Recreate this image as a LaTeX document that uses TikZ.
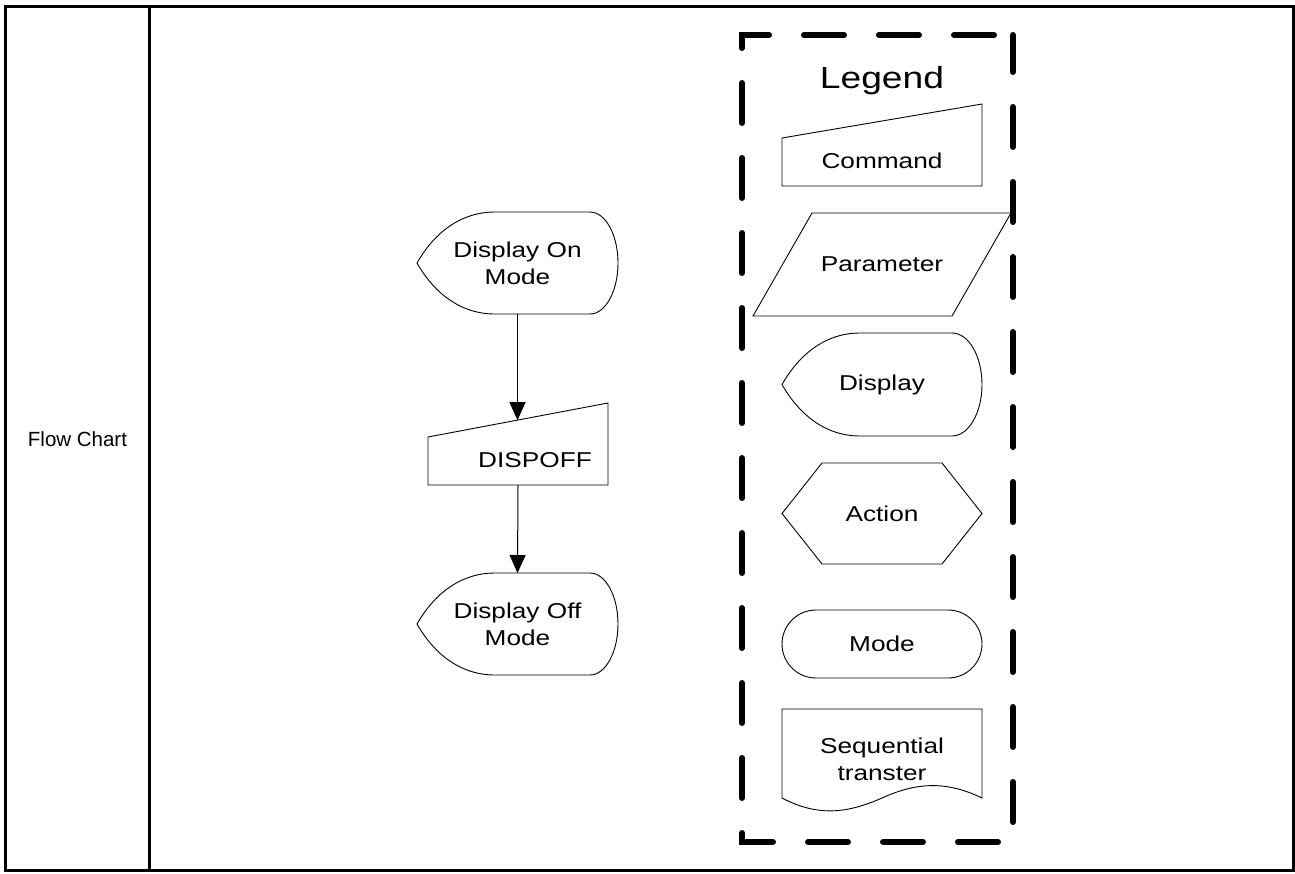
\documentclass[tikz,border=0pt]{standalone}
\usepackage{fontspec}
\setmainfont{Liberation Sans}[FakeStretch=1.22]
\newfontfamily\plainsans{Liberation Sans}
\usetikzlibrary{calc,arrows.meta}
\tikzset{
  shapebox/.style={draw=none, inner sep=0pt, outer sep=0pt, align=center, font=\fontsize{21.5}{27}\selectfont},
  txt/.style={inner sep=0pt, outer sep=0pt, align=center, font=\fontsize{21.5}{27}\selectfont},
  outline/.style={draw=black, line width=0.9pt, line join=miter},
  arr/.style={draw=black, line width=1pt, -{Triangle[length=18pt,width=16pt]}},
  frame/.style={draw=black, line width=3pt},
  legenddash/.style={draw=black, line width=6pt, line cap=round, dash pattern=on 40pt off 35pt, dash phase=56pt},
}
\begin{document}
\begin{tikzpicture}[x=1pt,y=-1pt]
\useasboundingbox (0,0) rectangle (1295,873);
% outer table frame
\draw[frame] (5,6) rectangle (1293.5,870.5);
\draw[frame] (149.5,6) -- (149.5,870.5);
\node[txt, font=\plainsans\fontsize{20.5}{24}\selectfont] (fc) at (77.5,439.5) {Flow Chart};

% ---- flow chart ----
\node[shapebox, minimum width=201pt, minimum height=102pt] (on) at (517.5,263) {Display On\\Mode};
\node[shapebox, minimum width=180pt, minimum height=82pt] (cmd) at (518,444) {};
\node[txt] (cmdt) at (535,460) {DISPOFF};
\node[shapebox, minimum width=201pt, minimum height=102pt] (off) at (517.5,624) {Display Off\\Mode};

% ---- legend ----
\draw[legenddash] (1013,35) -- (742,35) -- (742,842) -- (1013,842) -- cycle;
\node[txt, font=\fontsize{30.5}{36}\selectfont, anchor=base] (leg) at (882,88) {Legend};
\node[shapebox, minimum width=200pt, minimum height=82pt] (lcmd) at (882,145) {};
\node[txt] (lcmdt) at (882,161) {Command};
\node[shapebox, minimum width=258pt, minimum height=103pt] (lpar) at (882,264.5) {Parameter};
\node[shapebox, minimum width=200pt, minimum height=103pt] (ldisp) at (882,384.5) {Display};
\node[shapebox, minimum width=200pt, minimum height=101pt] (lact) at (882,513.5) {Action};
\node[shapebox, draw=black, line width=0.9pt, rounded corners=34pt, minimum width=200pt, minimum height=68pt] (lmode) at (882,644) {Mode};
\node[shapebox, minimum width=200pt, minimum height=89pt] (lseq) at (882,753.5) {};
\node[txt] (lseqt) at (882,759) {Sequential\\transter};

% display shapes (node / right-arc width / half height)
\foreach \n/\r/\h in {on/28/51, off/28/51, ldisp/30/51.5}{
  \draw[outline] (\n.west) .. controls +(13,-23) and +(-40,0) .. ($(\n.north west)+(78,0)$)
     -- ($(\n.north east)+(-\r,0)$)
     .. controls +(0.552*\r,0) and +(0,-0.552*\h) .. (\n.east)
     .. controls +(0,0.552*\h) and +(0.552*\r,0) .. ($(\n.south east)+(-\r,0)$)
     -- ($(\n.south west)+(78,0)$) .. controls +(-40,0) and +(13,23) .. (\n.west) -- cycle;
}
% command (manual input) shapes
\foreach \n in {cmd, lcmd}{
  \draw[outline] ($(\n.north west)+(0,34)$) -- (\n.north east) -- (\n.south east) -- (\n.south west) -- cycle;
}
% parameter
\draw[outline] ($(lpar.north west)+(59,0)$) -- (lpar.north east) -- ($(lpar.south east)+(-59,0)$) -- (lpar.south west) -- cycle;
% action hexagon
\draw[outline] (lact.west) -- ($(lact.north west)+(40,0)$) -- ($(lact.north east)+(-40,0)$) -- (lact.east)
   -- ($(lact.south east)+(-40,0)$) -- ($(lact.south west)+(40,0)$) -- cycle;
% document
\draw[outline] (lseq.south east) .. controls +(-37,-18) and +(33,-15) .. (lseq.south)
   .. controls +(-32,14) and +(38,20) .. (lseq.south west) -- (lseq.north west) -- (lseq.north east) -- cycle;

% connectors
\coordinate (cmdtl) at ($(cmd.north west)+(0,34)$);
\coordinate (cmdin) at ($(cmdtl)!0.494!(cmd.north east)$);
\draw[arr] (on.south) -- (on.south |- cmdin);
\draw[arr] (cmd.south) -- (off.north);
\end{tikzpicture}
\end{document}
